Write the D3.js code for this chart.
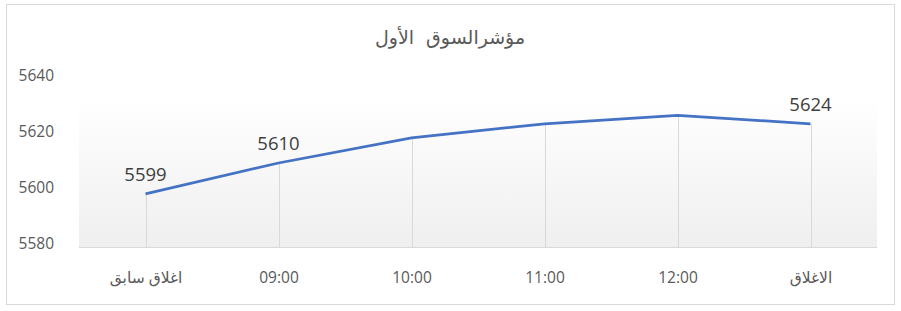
<!DOCTYPE html>
<html>
<head>
<meta charset="utf-8">
<script src="https://cdn.jsdelivr.net/npm/d3@7"></script>
<style>
  body { margin: 0; background: #fff; }
  text { font-family: "Open Sans", "Noto Sans", "DejaVu Sans", sans-serif; }
</style>
</head>
<body>
<div id="chart"></div>
<script>
// chart data
const categories = ["اغلاق سابق", "09:00", "10:00", "11:00", "12:00", "الاغلاق"];
const values = [5599, 5610, 5619, 5624, 5627, 5624];
const labelled = [true, true, false, false, false, true];
const yTicks = [5580, 5600, 5620, 5640];
const title = "مؤشرالسوق  الأول";

const W = 901, H = 311;
const svg = d3.select("#chart").append("svg")
    .attr("width", W)
    .attr("height", H);

// background gradient of plot area
const defs = svg.append("defs");
const grad = defs.append("linearGradient")
    .attr("id", "plotBg")
    .attr("x1", 0).attr("y1", 0)
    .attr("x2", 0).attr("y2", 1);
grad.append("stop").attr("offset", "0%").attr("stop-color", "#ffffff");
grad.append("stop").attr("offset", "100%").attr("stop-color", "#efefef");

// outer border
svg.append("rect")
    .attr("x", 6.5).attr("y", 4.5)
    .attr("width", 888).attr("height", 300)
    .attr("fill", "#fff")
    .attr("stroke", "#d9d9d9");

const plot = { left: 79, right: 877, top: 79, bottom: 247 };

const x = d3.scalePoint()
    .domain(categories)
    .range([plot.left, plot.right])
    .padding(0.5);

const y = d3.scaleLinear()
    .domain([5580, 5640])
    .range([plot.bottom, plot.top]);

svg.append("rect")
    .attr("x", plot.left)
    .attr("y", 97)
    .attr("width", plot.right - plot.left)
    .attr("height", plot.bottom - 97)
    .attr("fill", "url(#plotBg)");

// title (keep the double space)
svg.append("text")
    .attr("x", 450)
    .attr("y", 44)
    .attr("text-anchor", "middle")
    .attr("font-size", "19px")
    .attr("fill", "#595959")
    .style("font-family", "'DejaVu Sans', sans-serif")
    .style("white-space", "pre")
    .text(title);

// y axis labels
const yAxis = svg.append("g")
    .attr("transform", `translate(${plot.left - 25},-3)`)
    .call(d3.axisLeft(y).tickValues(yTicks).tickSize(0).tickPadding(0).tickFormat(d3.format("d")));
yAxis.select(".domain").remove();
yAxis.selectAll("text")
    .attr("font-size", "15.5px")
    .attr("fill", "#595959")
    .attr("font-family", "'Open Sans', 'Noto Sans', sans-serif")
    .attr("dy", "0.32em");

// x axis
const xAxis = svg.append("g")
    .attr("transform", `translate(0,${plot.bottom})`)
    .call(d3.axisBottom(x).tickSize(0).tickPadding(25));
xAxis.select(".domain")
    .attr("stroke", "#d9d9d9")
    .attr("d", `M${plot.left},0.5H${plot.right}`);
xAxis.selectAll("text")
    .attr("font-size", "15.5px")
    .attr("fill", "#595959")
    .attr("font-family", "'Open Sans', 'DejaVu Sans', sans-serif");

// drop lines
svg.append("g")
    .selectAll("line")
    .data(values)
    .join("line")
    .attr("x1", (d, i) => Math.round(x(categories[i])) + 0.5)
    .attr("x2", (d, i) => Math.round(x(categories[i])) + 0.5)
    .attr("y1", plot.bottom)
    .attr("y2", d => y(d))
    .attr("stroke", "#d9d9d9")
    .attr("stroke-width", 1);

// series line
const line = d3.line()
    .x((d, i) => x(categories[i]))
    .y(d => y(d));

svg.append("path")
    .datum(values)
    .attr("d", line)
    .attr("fill", "none")
    .attr("stroke", "#4472c4")
    .attr("stroke-width", 2.75)
    .attr("stroke-linejoin", "round");

// data labels
const labelData = values
    .map((v, i) => ({ v, i }))
    .filter(d => labelled[d.i]);

svg.append("g")
    .selectAll("text")
    .data(labelData)
    .join("text")
    .attr("x", d => x(categories[d.i]))
    .attr("y", d => y(d.v) - 13)
    .attr("text-anchor", "middle")
    .attr("font-size", "18.5px")
    .attr("fill", "#404040")
    .text(d => d.v);
</script>
</body>
</html>
